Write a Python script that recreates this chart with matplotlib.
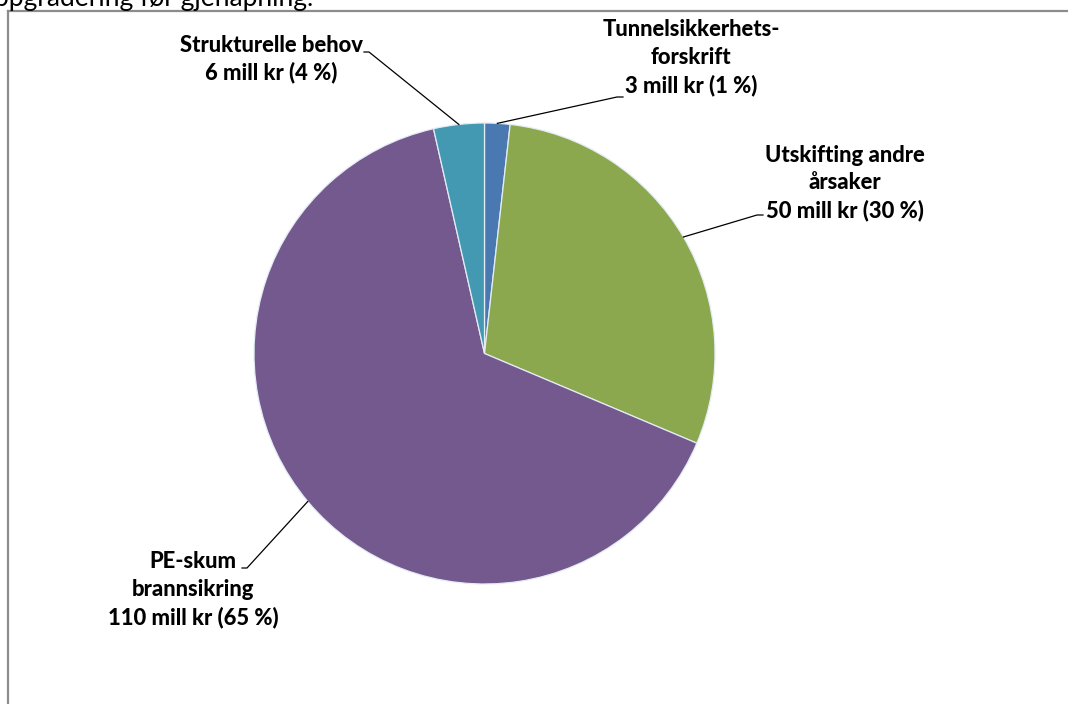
import numpy as np
import matplotlib
matplotlib.use("Agg")
import matplotlib.pyplot as plt

# Cost split (mill kr) for the upgrade items
categories = ["Tunnelsikkerhets-\nforskrift", "Utskifting andre\nårsaker",
              "PE-skum\nbrannsikring", "Strukturelle behov"]
values = [3, 50, 110, 6]
pct_text = ["1 %", "30 %", "65 %", "4 %"]
colors = ["#4a78b0", "#8ba84f", "#73598e", "#4399b1"]

W, H = 1068, 704
fig = plt.figure(figsize=(W / 100, H / 100), dpi=100)
ax = fig.add_axes([0, 0, 1, 1])


def iy(y):
    """Convert a top-down pixel row into axes y."""
    return H - y


cx, cy, r = 484.5, iy(353.5), 230.5
wedges, _ = ax.pie(values, colors=colors, startangle=90, counterclock=False,
                   center=(cx, cy), radius=r, frame=True,
                   wedgeprops=dict(edgecolor="#e4ecf4", linewidth=0.9))
ax.set_xlim(0, W)
ax.set_ylim(0, H)
ax.set_aspect("equal")
ax.axis("off")

# Chart frame (top and left edges visible)
ax.plot([8, 8], [iy(11), iy(H + 5)], color="#8c8c8c", lw=1.6, clip_on=False)
ax.plot([8, W + 5], [iy(11), iy(11)], color="#8c8c8c", lw=1.6, clip_on=False)

# Caption running above the frame
ax.text(313, iy(6), "oppgradering før gjenåpning.", ha="right", va="baseline",
        fontsize=19, family="Lato", color="#000000")

# Label placement: text centre of first line and where the leader line ends
label_pos = [(691, 30), (845, 155), (193, 562), (271, 45)]
leader_end = [(617, 97, 623), (757, 215, 763), (247, 568, 242), (369, 52, 364)]

for w, cat, v, p, (tx, ty), (lx, ly, lx2) in zip(wedges, categories, values,
                                                  pct_text, label_pos, leader_end):
    ang = np.deg2rad((w.theta1 + w.theta2) / 2)
    px = cx + r * np.cos(ang)
    py = cy + r * np.sin(ang)
    ax.plot([px, lx, lx2], [py, iy(ly), iy(ly)], color="black", lw=0.9)
    lines = f"{cat}\n{v} mill kr ({p})".split("\n")
    for i, line in enumerate(lines):
        ax.text(tx, iy(ty + 27.5 * i), line, ha="center", va="center",
                fontsize=15.8, family="Lato", fontweight=900, color="black")

fig.savefig("out.png", dpi=100, facecolor="white")
